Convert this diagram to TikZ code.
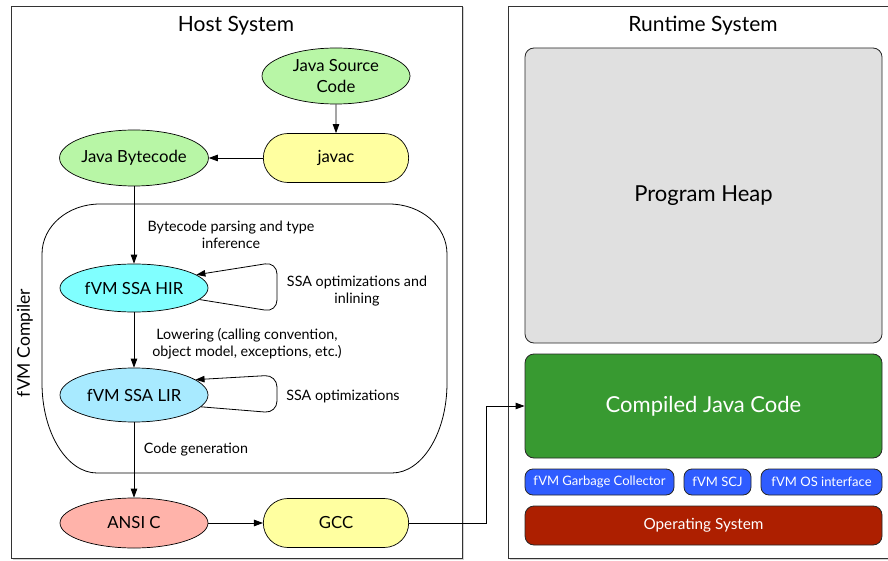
\documentclass[tikz,border=0pt]{standalone}
\usepackage{fontspec}
\setmainfont{Lato}
\usetikzlibrary{shapes.geometric,shapes.misc,arrows.meta,shadows}
\definecolor{jgreen}{HTML}{B8F6A6}
\definecolor{yel}{HTML}{FFFFA0}
\definecolor{hircol}{HTML}{80FFFF}
\definecolor{lircol}{HTML}{A8EAFF}
\definecolor{salmon}{HTML}{FFB3AA}
\definecolor{heapgray}{HTML}{E0E0E0}
\definecolor{codegreen}{HTML}{389A31}
\definecolor{rtblue}{HTML}{2F5CFF}
\definecolor{osred}{HTML}{AD1F00}
\begin{document}
\begin{tikzpicture}[x=1pt,y=-1pt,
  frame/.style={draw=black!80,line width=0.9pt,fill=white,
     drop shadow={opacity=0.35,shadow xshift=1.5pt,shadow yshift=-1.5pt}},
  title/.style={font=\fontsize{21}{24}\selectfont},
  ell/.style={ellipse,draw,line width=0.7pt,inner sep=0pt,minimum width=148pt,minimum height=50pt,
     font=\fontsize{16.7}{21}\selectfont,align=center},
  pill/.style={rounded rectangle,draw,line width=0.7pt,fill=yel,minimum width=152pt,minimum height=49pt,
     font=\fontsize{16.7}{19}\selectfont},
  lbl/.style={font=\fontsize{14.3}{17.5}\selectfont,align=center,inner sep=0pt},
  arr/.style={-{Triangle[length=9pt,width=6.5pt]},line width=0.8pt},
  rbox/.style={draw=black!85,line width=0.8pt,rounded corners=9pt},
  sbox/.style={draw=black!85,line width=0.8pt,rounded corners=8pt,fill=rtblue,text=white,
     font=\fontsize{13}{15}\selectfont,inner sep=0pt},
]
\useasboundingbox (0,0) rectangle (888,561);
% frames
\path[frame] (11,6) rectangle (462,558);
\path[frame] (508,6) rectangle (895,558);
\node[title] (hosttitle) at (236,26) {Host System};
\node[title] (rttitle) at (703,26) {Runtime System};

% fVM compiler container
\draw[line width=0.8pt] (100,204) -- (389,204)
  .. controls (421,204) and (447,226) .. (447,254) -- (447,383)
  .. controls (447,433) and (422,473) .. (392,473) -- (97,473)
  .. controls (67,473) and (42,433) .. (42,383) -- (42,254)
  .. controls (42,226) and (68,204) .. (100,204) -- cycle;
\node[rotate=90,font=\fontsize{17.5}{20}\selectfont] (fvmc) at (25,343) {fVM Compiler};

% host nodes
\node[ell,fill=jgreen,minimum height=56pt] (jsc) at (336,76) {Java Source\\Code};
\node[pill] (javac) at (336,158) {javac};
\node[ell,fill=jgreen,minimum height=56pt] (jbc) at (134,158) {Java Bytecode};
\node[ell,fill=hircol,minimum height=48pt] (hir) at (134,288) {fVM SSA HIR};
\node[ell,fill=lircol,minimum height=54pt] (lir) at (134,395) {fVM SSA LIR};
\node[ell,fill=salmon] (ansi) at (134,523) {ANSI C};
\node[pill] (gcc) at (336,523) {GCC};

\draw[arr] (jsc) -- (javac);
\draw[arr] (javac) -- (jbc);
\draw[arr] (jbc) -- (hir);
\draw[arr] (hir) -- (lir);
\draw[arr] (lir) -- (ansi);
\draw[arr] (ansi) -- (gcc);

\draw[arr,rounded corners=12pt] (hir.-10) -- (277,312) -- (277,262) -- (hir.12);
\draw[arr,rounded corners=12pt] (lir.-10) -- (277,413) -- (277,375) -- (lir.14);

\node[lbl] (l1) at (231,235) {Bytecode parsing and type\\inference};
\node[lbl] (l2) at (357,291) {SSA optimizations and\\inlining};
\node[lbl] (l3) at (247,344) {Lowering (calling convention,\\object model, exceptions, etc.)};
\node[lbl] (l4) at (343,396) {SSA optimizations};
\node[lbl] (l5) at (196,450) {Code generation};

% runtime
\node[rbox,fill=heapgray,minimum width=357pt,minimum height=295pt,
  font=\fontsize{22}{26}\selectfont] (heap) at (703.5,195.5) {Program Heap};
\node[rbox,fill=codegreen,text=white,minimum width=357pt,minimum height=104pt,
  font=\fontsize{22}{26}\selectfont] (cjc) at (703.5,406) {Compiled Java Code};
\node[sbox,minimum width=149pt,minimum height=26pt] (gc) at (599.5,482) {fVM Garbage Collector};
\node[sbox,minimum width=67pt,minimum height=26pt] (scj) at (717.5,482) {fVM SCJ};
\node[sbox,minimum width=121pt,minimum height=26pt] (osi) at (821.5,482) {fVM OS interface};
\node[rbox,fill=osred,text=white,minimum width=357pt,minimum height=39pt,
  font=\fontsize{15.3}{18}\selectfont] (os) at (703.5,525.5) {Operating System};

\coordinate (bend1) at (486,523);
\coordinate (bend2) at (486,406);
\draw[arr] (gcc.east) -- (bend1) -- (bend2) -- (cjc.west);
\end{tikzpicture}
\end{document}
